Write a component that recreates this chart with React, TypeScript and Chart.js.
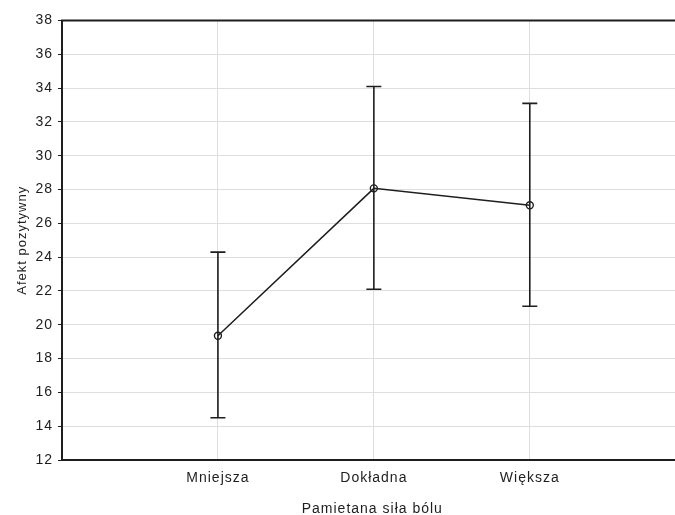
import React, { useEffect, useRef } from "react";
import { Chart, registerables } from "chart.js";

Chart.register(...registerables);

const categories = ["Mniejsza", "Dokładna", "Większa"];
const means = [19.35, 28.07, 27.07];
const lowerBounds = [14.5, 22.1, 21.1];
const upperBounds = [24.3, 34.1, 33.1];
const yTicksMin = 12;
const yTicksMax = 38;
const yStep = 2;
const xTitle = "Pamietana siła bólu";
const yTitle = "Afekt pozytywny";

const FONT = "'Liberation Sans', Arial, sans-serif";
const INK = "#1e1e1e";

const spacingPlugin = {
  id: "spacing",
  beforeUpdate(chart: any) {
    chart.ctx.letterSpacing = "1px";
  },
  beforeDraw(chart: any) {
    chart.ctx.letterSpacing = "1px";
  },
};

const errorBarPlugin = {
  id: "errorBars",
  beforeDatasetsDraw(chart: any) {
    const { ctx, scales } = chart;
    const xs = scales.x;
    const ys = scales.y;
    ctx.save();
    ctx.strokeStyle = INK;
    ctx.lineWidth = 1.6;
    const cap = 7.5;
    categories.forEach((_, i) => {
      const x = xs.getPixelForValue(i);
      const yl = ys.getPixelForValue(lowerBounds[i]);
      const yu = ys.getPixelForValue(upperBounds[i]);
      ctx.beginPath();
      ctx.moveTo(x, yl);
      ctx.lineTo(x, yu);
      ctx.moveTo(x - cap, yl);
      ctx.lineTo(x + cap, yl);
      ctx.moveTo(x - cap, yu);
      ctx.lineTo(x + cap, yu);
      ctx.stroke();
    });
    ctx.restore();
  },
  afterDraw(chart: any) {
    const { ctx, chartArea } = chart;
    ctx.save();
    ctx.strokeStyle = INK;
    ctx.lineWidth = 2;
    ctx.beginPath();
    ctx.moveTo(chartArea.left - 1, chartArea.top);
    ctx.lineTo(chartArea.right, chartArea.top);
    ctx.stroke();
    ctx.restore();
  },
};

export default function App() {
  const ref = useRef<HTMLCanvasElement | null>(null);
  useEffect(() => {
    if (!ref.current) return;
    const chart = new Chart(ref.current, {
      type: "line",
      data: {
        datasets: [
          {
            data: means.map((m, i) => ({ x: i, y: m })),
            borderColor: INK,
            borderWidth: 1.5,
            pointRadius: 3.5,
            pointBorderWidth: 1.4,
            pointBorderColor: INK,
            pointBackgroundColor: "rgba(255,255,255,0)",
            tension: 0,
            fill: false,
          },
        ],
      },
      options: {
        animation: false,
        responsive: false,
        devicePixelRatio: 1,
        layout: { padding: { top: 20.5, right: 0, left: 0, bottom: 0 } },
        plugins: { legend: { display: false }, tooltip: { enabled: false } },
        scales: {
          x: {
            type: "linear",
            min: -1,
            max: 2.98,
            afterBuildTicks: (scale: any) => {
              scale.ticks = categories.map((_, i) => ({ value: i }));
            },
            afterFit: (scale: any) => {
              scale.height = 55;
            },
            ticks: {
              callback: (v: any) => categories[v] ?? "",
              color: INK,
              font: { family: FONT, size: 14 },
              padding: 10,
              maxRotation: 0,
              autoSkip: false,
            },
            grid: { color: "#dedede", lineWidth: 1, drawTicks: false },
            border: { display: true, color: INK, width: 2 },
            title: {
              display: true,
              text: xTitle,
              color: INK,
              font: { family: FONT, size: 14, lineHeight: 1 },
              padding: { top: 0, bottom: -1 },
            },
          },
          y: {
            min: yTicksMin,
            max: yTicksMax,
            afterFit: (scale: any) => {
              scale.width = 62;
            },
            ticks: {
              stepSize: yStep,
              color: INK,
              font: { family: FONT, size: 14 },
              padding: 5,
            },
            grid: { color: "#dedede", lineWidth: 1, tickColor: INK, tickLength: 4 },
            border: { display: true, color: INK, width: 2 },
            title: {
              display: true,
              text: yTitle,
              color: INK,
              font: { family: FONT, size: 13, lineHeight: 1 },
              padding: { top: 16, bottom: 0 },
            },
          },
        },
      },
      plugins: [spacingPlugin, errorBarPlugin],
    } as any);
    return () => chart.destroy();
  }, []);
  return (
    <div
      style={{
        position: "absolute",
        left: 0,
        top: 0,
        width: 675,
        height: 515,
        overflow: "hidden",
        background: "#fff",
      }}
    >
      <canvas ref={ref} width={688} height={515} style={{ display: "block" }} />
    </div>
  );
}
